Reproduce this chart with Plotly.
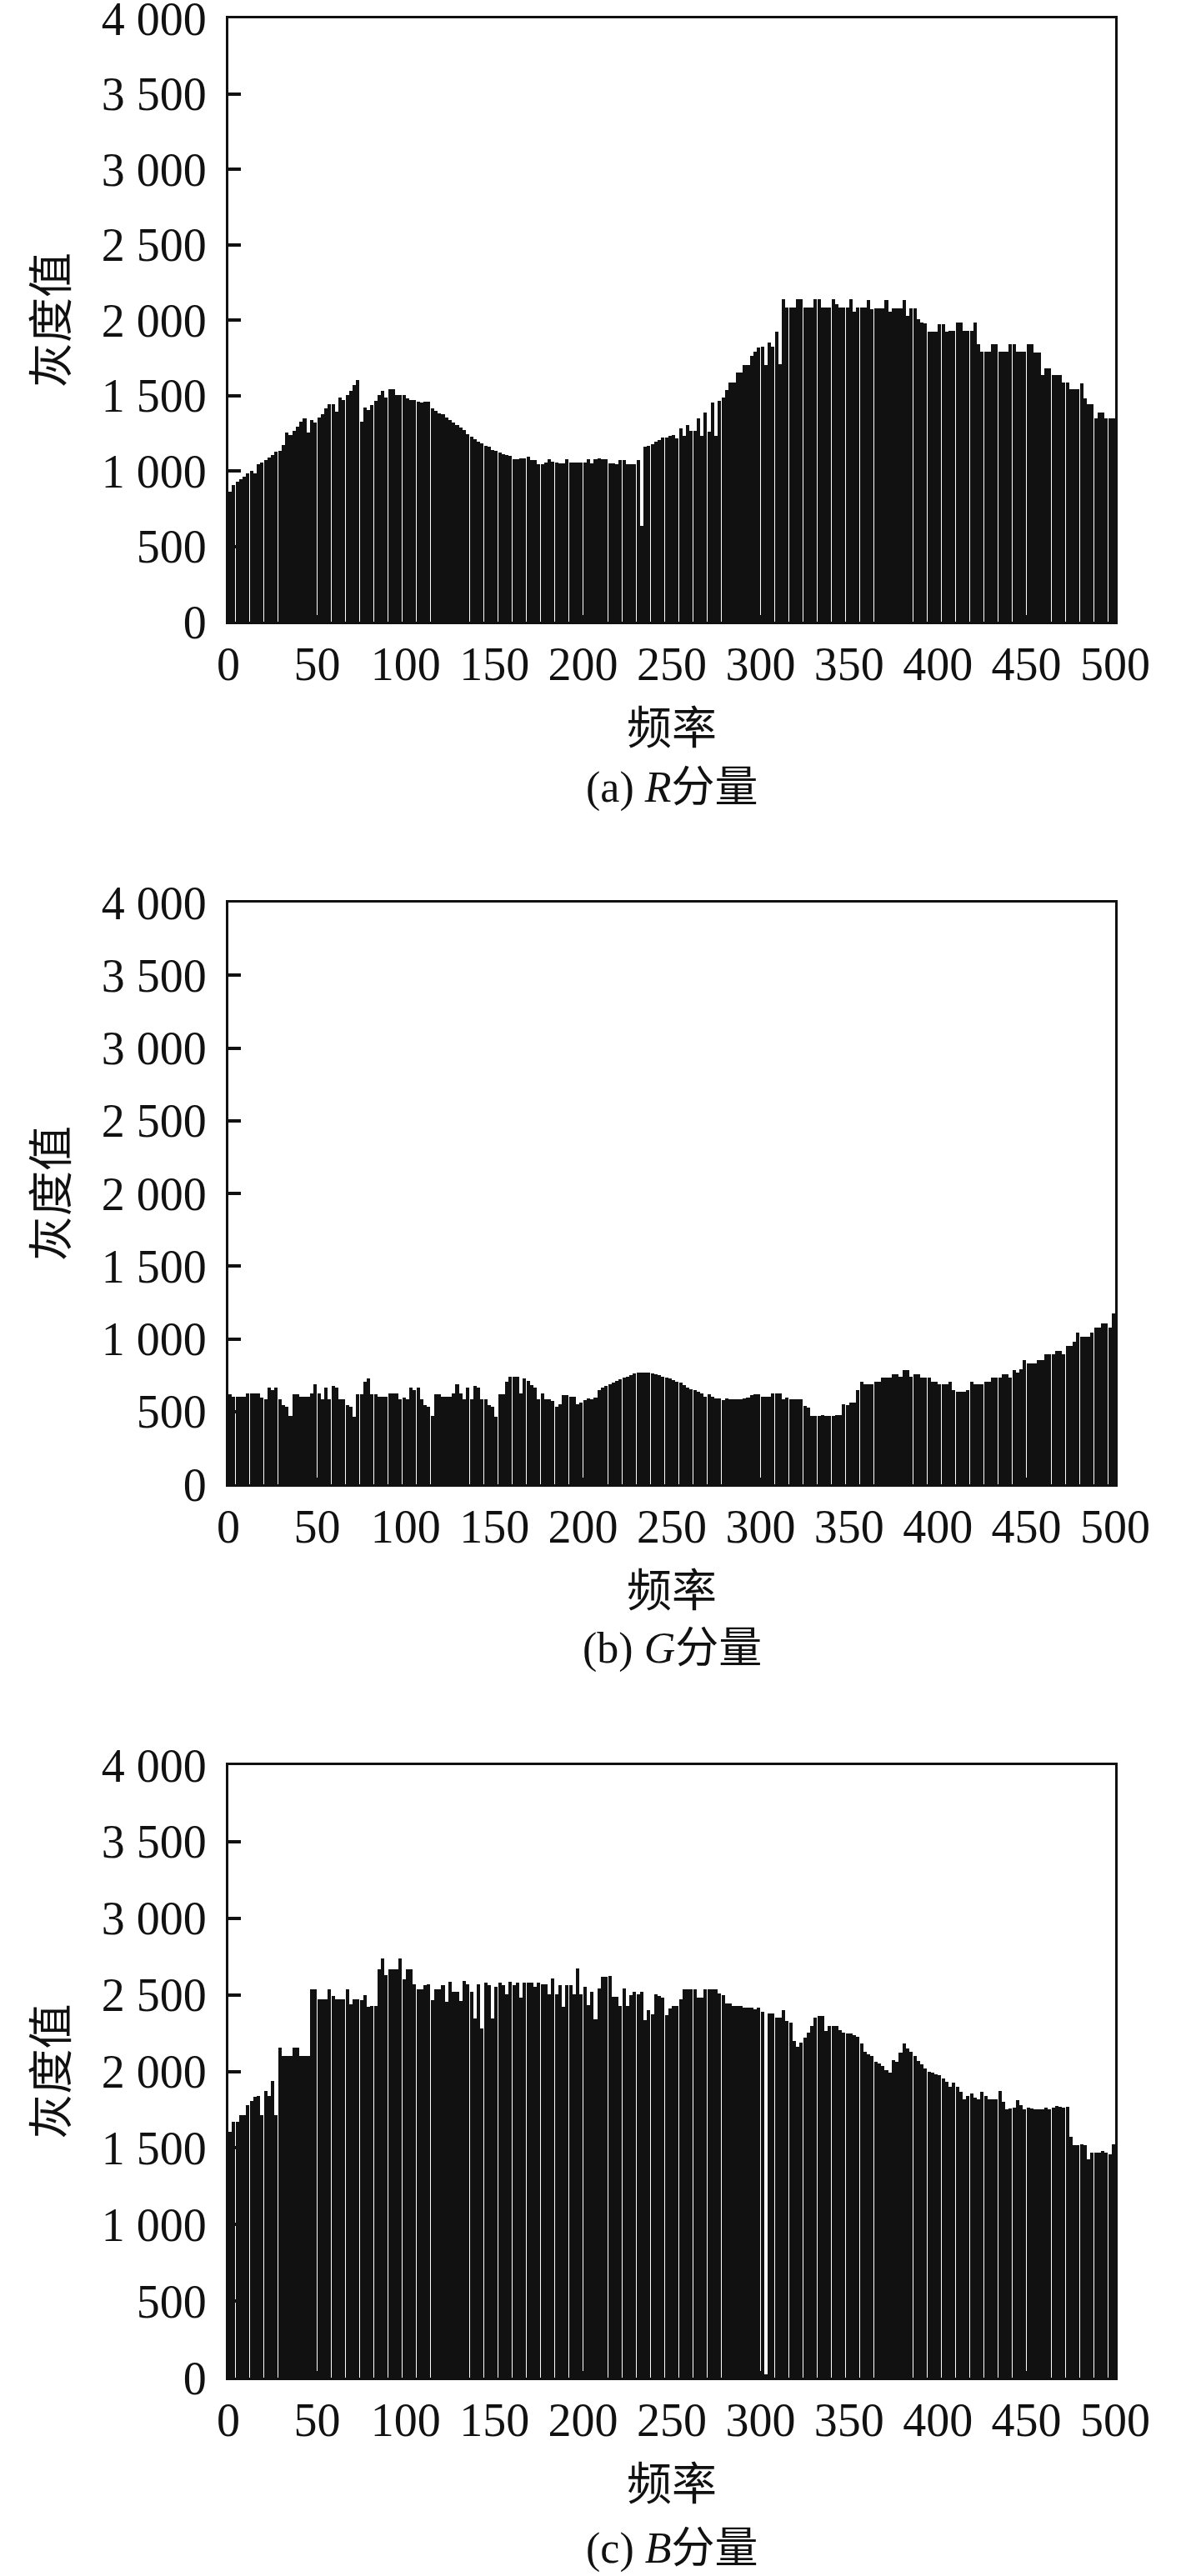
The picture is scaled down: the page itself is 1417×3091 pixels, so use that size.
import plotly.graph_objects as go

# ---------------- data ----------------
# frequency bins of width 2 (bar centres)
freq = list(range(1, 500, 2))

r_vals = [
    862, 908, 928, 947, 963, 981, 999, 981, 1046, 1053,
    1070, 1087, 1107, 1125, 1134, 1174, 1252, 1239, 1267, 1294,
    1326, 1350, 1252, 1335, 1322, 1353, 1377, 1414, 1442, 1440,
    1392, 1484, 1470, 1503, 1532, 1571, 1602, 1328, 1418, 1405,
    1438, 1464, 1503, 1532, 1488, 1543, 1543, 1501, 1501, 1501,
    1479, 1470, 1470, 1461, 1451, 1461, 1461, 1414, 1400, 1383,
    1374, 1354, 1336, 1323, 1305, 1287, 1268, 1245, 1226, 1208,
    1195, 1181, 1168, 1159, 1140, 1131, 1122, 1113, 1104, 1098,
    1076, 1076, 1085, 1085, 1095, 1073, 1073, 1044, 1044, 1055,
    1076, 1061, 1055, 1050, 1050, 1076, 1055, 1055, 1055, 1055,
    1058, 1076, 1050, 1080, 1085, 1080, 1080, 1050, 1050, 1044,
    1073, 1073, 1044, 1044, 1044, 1073, 636, 1163, 1168, 1179,
    1192, 1207, 1221, 1221, 1230, 1239, 1215, 1280, 1230, 1304,
    1263, 1263, 1348, 1230, 1387, 1261, 1455, 1230, 1466, 1484,
    1538, 1586, 1586, 1654, 1654, 1700, 1700, 1764, 1792, 1820,
    1823, 1704, 1853, 1823, 1924, 1705, 2138, 2083, 2083, 2083,
    2138, 2138, 2083, 2083, 2083, 2138, 2138, 2083, 2083, 2083,
    2138, 2105, 2083, 2083, 2083, 2138, 2055, 2083, 2083, 2083,
    2134, 2073, 2077, 2077, 2077, 2134, 2053, 2077, 2077, 2077,
    2134, 2026, 2077, 2077, 2004, 1982, 1976, 1924, 1924, 1924,
    1972, 1972, 1924, 1930, 1930, 1982, 1982, 1930, 1930, 1930,
    1982, 1842, 1792, 1792, 1792, 1842, 1842, 1792, 1792, 1792,
    1842, 1842, 1792, 1792, 1792, 1838, 1838, 1787, 1787, 1635,
    1678, 1678, 1635, 1635, 1635, 1584, 1584, 1540, 1540, 1540,
    1580, 1482, 1442, 1442, 1346, 1387, 1387, 1346, 1346, 1346,
]

g_vals = [
    617, 604, 604, 604, 604, 623, 623, 623, 623, 598,
    585, 665, 646, 665, 585, 544, 531, 468, 617, 617,
    604, 604, 604, 623, 688, 623, 585, 665, 585, 678,
    665, 585, 585, 544, 531, 464, 617, 617, 707, 726,
    617, 617, 604, 604, 604, 623, 623, 623, 585, 598,
    585, 665, 646, 665, 585, 544, 531, 468, 617, 617,
    604, 604, 604, 623, 688, 623, 585, 665, 585, 678,
    665, 585, 585, 544, 531, 464, 617, 617, 707, 741,
    741, 741, 623, 728, 713, 684, 665, 585, 627, 585,
    585, 573, 531, 550, 613, 613, 604, 604, 553, 563,
    577, 590, 585, 598, 646, 665, 678, 688, 700, 713,
    722, 732, 741, 751, 760, 766, 770, 770, 770, 764,
    757, 751, 741, 736, 728, 719, 707, 697, 684, 665,
    656, 646, 636, 627, 604, 617, 604, 593, 589, 579,
    593, 583, 583, 583, 583, 589, 598, 611, 617, 617,
    604, 604, 604, 623, 623, 623, 585, 598, 585, 585,
    585, 585, 541, 527, 468, 468, 470, 478, 468, 468,
    468, 478, 478, 550, 544, 560, 560, 650, 707, 688,
    688, 688, 707, 707, 736, 736, 736, 757, 757, 737,
    785, 785, 737, 757, 757, 736, 736, 736, 707, 707,
    688, 688, 688, 707, 650, 636, 636, 636, 650, 707,
    688, 688, 688, 707, 707, 736, 736, 736, 757, 757,
    736, 785, 770, 789, 852, 833, 833, 833, 852, 852,
    894, 894, 894, 919, 919, 894, 951, 951, 980, 1043,
    1015, 1015, 1015, 1043, 1076, 1076, 1108, 1108, 1076, 1175,
]

b_vals = [
    1607, 1670, 1670, 1716, 1716, 1779, 1807, 1834, 1839, 1716,
    1870, 1839, 1940, 1716, 2154, 2099, 2099, 2099, 2154, 2154,
    2099, 2099, 2099, 2538, 2538, 2471, 2471, 2471, 2538, 2495,
    2471, 2471, 2471, 2538, 2438, 2471, 2471, 2466, 2498, 2422,
    2429, 2429, 2665, 2739, 2630, 2665, 2665, 2665, 2739, 2603,
    2665, 2665, 2571, 2538, 2538, 2562, 2571, 2467, 2538, 2538,
    2562, 2456, 2584, 2522, 2522, 2458, 2593, 2571, 2522, 2348,
    2571, 2280, 2580, 2562, 2348, 2553, 2580, 2562, 2504, 2585,
    2562, 2580, 2480, 2580, 2580, 2580, 2553, 2580, 2571, 2571,
    2502, 2607, 2502, 2562, 2422, 2562, 2562, 2502, 2671, 2502,
    2553, 2435, 2522, 2341, 2540, 2616, 2616, 2621, 2488, 2488,
    2429, 2540, 2429, 2498, 2520, 2502, 2520, 2332, 2399, 2371,
    2502, 2495, 2480, 2368, 2411, 2425, 2425, 2471, 2534, 2534,
    2534, 2534, 2480, 2480, 2534, 2534, 2534, 2534, 2510, 2498,
    2444, 2444, 2425, 2425, 2425, 2416, 2416, 2416, 2407, 2416,
    2390, 20, 2380, 2380, 2353, 2353, 2399, 2330, 2317, 2200,
    2163, 2190, 2220, 2254, 2299, 2353, 2360, 2362, 2263, 2299,
    2299, 2299, 2270, 2254, 2250, 2245, 2235, 2227, 2180, 2127,
    2110, 2100, 2064, 2050, 2036, 2010, 1991, 2073, 2064, 2120,
    2181, 2150, 2127, 2100, 2070, 2045, 2018, 2000, 1991, 1980,
    1973, 1955, 1930, 1901, 1928, 1900, 1864, 1819, 1840, 1855,
    1830, 1819, 1864, 1840, 1819, 1819, 1819, 1873, 1800, 1755,
    1760, 1764, 1810, 1780, 1755, 1764, 1760, 1755, 1755, 1755,
    1764, 1755, 1765, 1773, 1770, 1764, 1770, 1572, 1519, 1519,
    1525, 1519, 1425, 1468, 1468, 1468, 1478, 1468, 1459, 1525,
]

x_ticks = [0, 50, 100, 150, 200, 250, 300, 350, 400, 450, 500]
y_ticks = [0, 500, 1000, 1500, 2000, 2500, 3000, 3500, 4000]
y_ticktext = ["0", "500", "1 000", "1 500", "2 000", "2 500", "3 000", "3 500", "4 000"]
captions = ["(a) <i>R</i>分量", "(b) <i>G</i>分量", "(c) <i>B</i>分量"]
x_title = "频率"
y_title = "灰度值"

# ---------------- layout geometry (page pixels) ----------------
W, H = 1417, 3091
X0, X1 = 274, 1338
panels = [(22, 746), (1083, 1781), (2118, 2853)]   # (top, bottom) of plot areas
caption_y = [945, 1978, 3058]


def fx(px):
    return px / W


def fy(py):
    return 1 - py / H


FONT = "Liberation Serif, Noto Sans CJK SC, serif"
INK = "#111111"

fig = go.Figure()
series = [r_vals, g_vals, b_vals]
for i, vals in enumerate(series):
    n = "" if i == 0 else str(i + 1)
    fig.add_trace(go.Bar(
        x=freq, y=vals, width=1.9,
        marker=dict(color=INK, line=dict(width=0)),
        xaxis="x" + n, yaxis="y" + n, showlegend=False,
    ))

layout = dict(
    width=W, height=H,
    margin=dict(l=0, r=0, t=0, b=0, autoexpand=False),
    paper_bgcolor="white", plot_bgcolor="white",
    font=dict(family=FONT, size=56, color=INK),
    bargap=0,
    annotations=[],
)

for i, (top, bot) in enumerate(panels):
    n = "" if i == 0 else str(i + 1)
    layout["xaxis" + n] = dict(
        domain=[fx(X0), fx(X1)], anchor="y" + n, range=[0, 500],
        automargin=False, ticklabeloverflow="allow",
        tickmode="array", tickvals=x_ticks,
        ticks="inside", ticklen=8, tickwidth=2, tickcolor=INK,
        showline=True, linewidth=3, linecolor=INK, mirror=True,
        showgrid=False, zeroline=False,
        tickfont=dict(family=FONT, size=56, color=INK),
        ticklabelstandoff=0,
        title=dict(text=x_title, font=dict(family=FONT, size=54, color=INK), standoff=28),
    )
    layout["yaxis" + n] = dict(
        domain=[fy(bot), fy(top)], anchor="x" + n, range=[0, 4000],
        automargin=False, ticklabeloverflow="allow",
        tickmode="array", tickvals=y_ticks, ticktext=y_ticktext,
        ticks="inside", ticklen=15, tickwidth=3.5, tickcolor=INK,
        showline=True, linewidth=3, linecolor=INK, mirror=True,
        showgrid=False, zeroline=False,
        tickfont=dict(family=FONT, size=56, color=INK),
        ticklabelstandoff=12,
        title=dict(text=y_title, font=dict(family=FONT, size=54, color=INK), standoff=23),
    )
    layout["annotations"].append(dict(
        text=captions[i], xref="paper", yref="paper",
        x=fx((X0 + X1) / 2), y=fy(caption_y[i]),
        xanchor="center", yanchor="middle", showarrow=False,
        font=dict(family=FONT, size=52, color=INK),
    ))

fig.update_layout(**layout)
# remove the default 8px page margin so the figure fills the window exactly
fig.write_html(
    "out.html",
    config={"displayModeBar": False},
    post_script="document.body.style.margin='0';document.documentElement.style.margin='0';",
)
